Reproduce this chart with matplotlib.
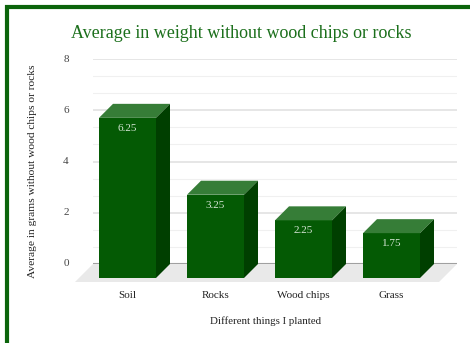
import numpy as np
import matplotlib.pyplot as plt
from matplotlib.patches import Polygon
from matplotlib.lines import Line2D

plt.rcParams['font.family'] = ['Liberation Serif', 'DejaVu Serif']

# datos
cosas = ['Soil', 'Rocks', 'Wood chips', 'Grass']
promedios = [6.25, 3.25, 2.25, 1.75]
valores_txt = ['6.25', '3.25', '2.25', '1.75']
yticks = [0, 2, 4, 6, 8]

W, H = 470, 343
fig = plt.figure(figsize=(W/100, H/100), dpi=100)

# area del grafico (plano de atras)
izq, der, abajo, arriba = 93, 457, 264, 59
ax = fig.add_axes([izq/W, 1-abajo/H, (der-izq)/W, (abajo-arriba)/H])
x = np.arange(len(cosas))
px_x = 88.0
xmin = -(141.5-izq)/px_x
ax.set_xlim(xmin, xmin + (der-izq)/px_x)
ax.set_ylim(0, 8)
ax.axis('off')

px_y = (abajo-arriba)/8.0
prof = 14          # profundidad de las barras en px
prof_piso = 18     # profundidad del piso en px
dx, dy = prof/px_x, prof/px_y
dxp, dyp = prof_piso/px_x, prof_piso/px_y
ancho = 57/px_x

# lineas de la grilla
x0, x1 = ax.get_xlim()
for v in np.arange(0, 8.01, 2/3):
    if abs(v - round(v)) < 1e-6 and round(v) % 2 == 0:
        continue
    ax.plot([x0, x1], [v, v], color='#f0f0f0', lw=0.8, zorder=1)
for v in yticks[1:]:
    ax.plot([x0, x1], [v, v], color='#e2e2e2', lw=1.2, zorder=1)

# piso
piso = Polygon([(x0, 0), (x1, 0), (x1-dxp, -dyp), (x0-dxp, -dyp)],
               closed=True, facecolor='#e9e9e9', edgecolor='none',
               zorder=2, clip_on=False)
ax.add_patch(piso)
ax.plot([x0, x1], [0, 0], color='#a0a0a0', lw=1.5, zorder=2.5,
        solid_capstyle='butt')

# barras 3D
for i, v in enumerate(promedios):
    xl, xr = x[i]-ancho/2, x[i]+ancho/2
    frente = Polygon([(xl-dx, -dy), (xr-dx, -dy), (xr-dx, v-dy), (xl-dx, v-dy)],
                     facecolor='#045a04', edgecolor='none', zorder=4, clip_on=False)
    tapa = Polygon([(xl-dx, v-dy), (xr-dx, v-dy), (xr, v), (xl, v)],
                   facecolor='#367d37', edgecolor='none', zorder=4, clip_on=False)
    lado = Polygon([(xr-dx, -dy), (xr, 0), (xr, v), (xr-dx, v-dy)],
                   facecolor='#003f00', edgecolor='none', zorder=4, clip_on=False)
    for p in (frente, tapa, lado):
        ax.add_patch(p)
    ax.text(x[i]-dx, v-dy-10.5/px_y, valores_txt[i], ha='center', va='center',
            fontsize=8, color='#d6e6d6', zorder=5)
    ax.text(x[i]-dx, -31/px_y, cosas[i], ha='center', va='center',
            fontsize=8, color='#222222')

for v in yticks:
    ax.text(x0 - 27/px_x, v, str(v), ha='center', va='center',
            fontsize=8, color='#444444')

fig.text(241.5/W, 1-33/H, 'Average in weight without wood chips or rocks',
         ha='center', va='center', fontsize=13.0, color='#1b6f1b')
fig.text(266/W, 1-321/H, 'Different things I planted', ha='center',
         va='center', fontsize=7.8, color='#222222')
fig.text(33/W, 1-171/H, 'Average in grams without wood chips or rocks',
         ha='center', va='center', rotation=90, fontsize=8.25, color='#222222')

# borde verde
fig.add_artist(Line2D([5/W, 1], [1-7/H, 1-7/H], color='#0b640b', lw=3,
                      transform=fig.transFigure, solid_capstyle='butt'))
fig.add_artist(Line2D([7/W, 7/W], [0, 1-5/H], color='#0b640b', lw=3,
                      transform=fig.transFigure, solid_capstyle='butt'))

fig.savefig('out.png', dpi=100)
